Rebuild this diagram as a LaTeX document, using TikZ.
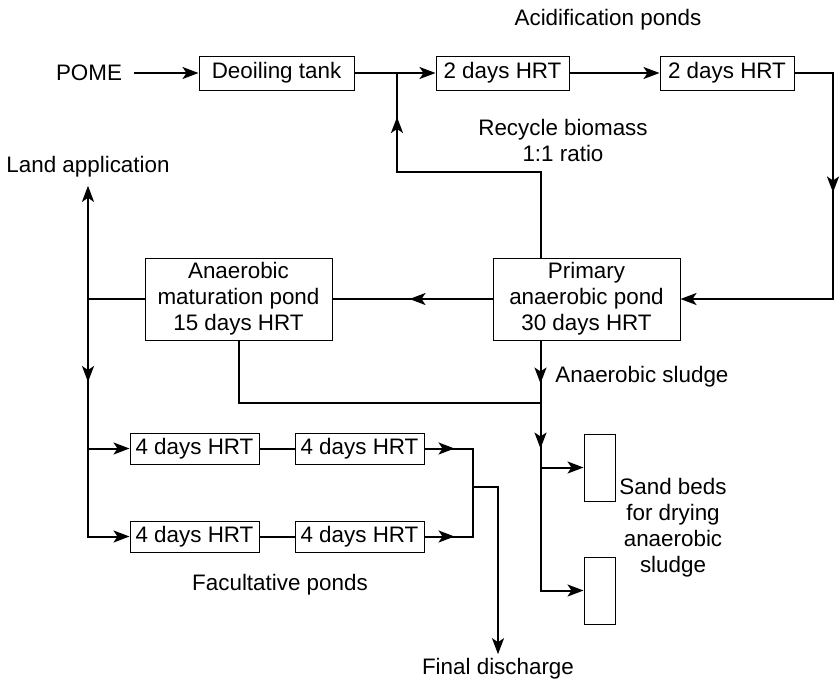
\documentclass[tikz,border=0pt]{standalone}
\usepackage{fontspec}
\setmainfont{Liberation Sans}
\usepackage{tikz}
\usetikzlibrary{arrows.meta, positioning, calc, decorations.markings}

\begin{document}
\begin{tikzpicture}[
    x=0.5pt, y=-0.5pt,
    every node/.style={font=\fontsize{11.2}{13}\selectfont},
    pond/.style={draw, line width=0.5pt, inner sep=0pt, minimum height=17pt,
                 align=center},
    bigpond/.style={pond, minimum width=93.5pt, minimum height=41pt},
    facpond/.style={pond, minimum width=64.5pt, minimum height=15.5pt},
    bed/.style={draw, line width=0.5pt, inner sep=0pt, minimum width=15.5pt,
                minimum height=33.5pt},
    lbl/.style={align=center, inner sep=2pt},
    flow/.style={line width=1pt},
    arrow/.style={flow, -{Stealth[length=8pt, width=6pt, inset=2pt]}},
    midarrow/.style={postaction={decorate, decoration={markings,
        mark=at position #1 with {\arrow{Stealth[length=8pt, width=6pt, inset=2pt]}}}}}
]
    \useasboundingbox (0,0) rectangle (840,682);

    \node[pond, minimum width=77.5pt] (deoil) at (276.5,73) {Deoiling tank};
    \node[pond, minimum width=66.5pt, right=40.5pt of deoil] (acidA) {2 days HRT};
    \node[pond, minimum width=67pt, right=45pt of acidA] (acidB) {2 days HRT};
    \node[bigpond] (primary) at (586.5,299) {Primary\\anaerobic pond\\30 days HRT};
    \node[bigpond, left=80pt of primary] (matur) {Anaerobic\\maturation pond\\15 days HRT};
    \node[facpond] (facA) at (194.5,448.5) {4 days HRT};
    \node[facpond, right=17.5pt of facA] (facB) {4 days HRT};
    \node[facpond, below=28pt of facA] (facC) {4 days HRT};
    \node[facpond, right=17.5pt of facC] (facD) {4 days HRT};
    \node[bed] (bedA) at (599.5,467.5) {};
    \node[bed, below=27.5pt of bedA] (bedB) {};

    \node[lbl] (pome) at (89,73) {POME};
    \node[lbl] (acidlbl) at (608,20) {Acidification ponds};
    \node[lbl] (recycle) at (563,140) {Recycle biomass\\1:1 ratio};
    \node[lbl] (land) at (88,167) {Land application};
    \node[lbl, anchor=west] (sludge) at (551,377) {Anaerobic sludge};
    \node[lbl] (faclbl) at (280,585) {Facultative ponds};
    \node[lbl] (final) at (498,669) {Final discharge};
    \node[lbl] (sandlbl) at (673,528) {Sand beds\\for drying\\anaerobic\\sludge};

    \coordinate (rj) at (397,73);
    \coordinate (rb) at (833,299);
    \coordinate (up) at ($(primary.north west)+(48,0)$);
    \coordinate (dn) at ($(primary.south west)+(48,0)$);
    \coordinate (lj) at (matur.west -| land);
    \coordinate (sj) at (dn |- 0,403);
    \coordinate (fm) at (473,487);

    \draw[arrow, shorten <=4pt] (pome) -- (deoil);
    \draw[arrow] (deoil) -- (acidA);
    \draw[arrow] (acidA) -- (acidB);
    \draw[arrow, midarrow=79pt] (acidB.east) -| (rb) -- (primary.east);
    \draw[flow, midarrow=142pt] (up) -- ++(0,-86) -| (rj);
    \draw[flow, midarrow=41.5pt] (primary.west) -- (matur.east);

    \draw[arrow, shorten >=2pt] (matur.west) -- (lj) -- (land.south);
    \draw[arrow, midarrow=41.5pt] (lj) |- (facC.west);
    \draw[arrow] (lj |- facA.west) -- (facA.west);
    \draw[flow] (matur.south) |- (sj);

    \draw[arrow, midarrow=21.5pt, midarrow=54pt] (dn) |- (bedB.west);
    \draw[arrow] (dn |- bedA.west) -- (bedA.west);

    \draw[flow] (facA) -- (facB);
    \draw[flow] (facC) -- (facD);
    \draw[flow, midarrow=15pt] (facB.east) -| (fm);
    \draw[flow, midarrow=15pt] (facD.east) -| (fm);
    \draw[arrow] (fm) -| (final.north);
\end{tikzpicture}
\end{document}
